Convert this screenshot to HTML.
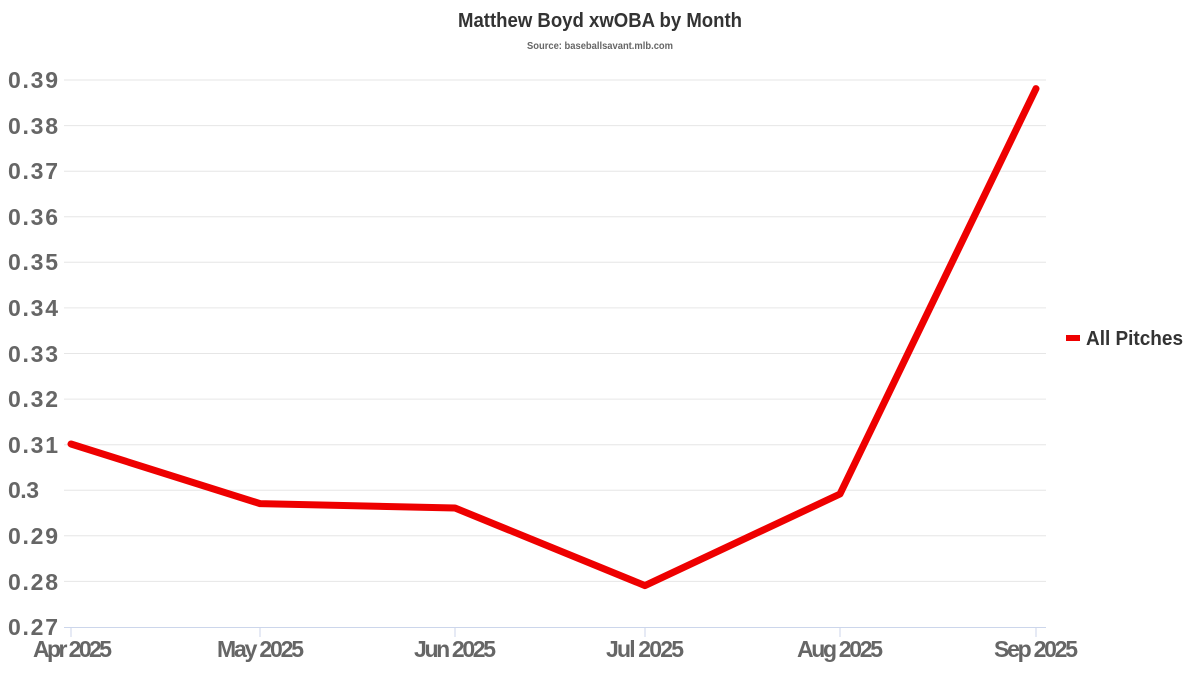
<!DOCTYPE html>
<html><head><meta charset="utf-8"><style>
body{margin:0;background:#fff;}
svg text{font-family:"Liberation Sans Narrow","Liberation Sans",sans-serif;font-weight:bold;}
</style></head><body>
<svg width="1200" height="675" viewBox="0 0 1200 675" xmlns="http://www.w3.org/2000/svg">
<text x="458" y="27" font-size="20" fill="#333" textLength="284" lengthAdjust="spacingAndGlyphs">Matthew Boyd xwOBA by Month</text>
<text x="527" y="49" font-size="10" fill="#666" textLength="146" lengthAdjust="spacingAndGlyphs">Source: baseballsavant.mlb.com</text>
<g stroke="#e6e6e6" stroke-width="1">
<line x1="64" x2="1046" y1="80" y2="80"/><line x1="64" x2="1046" y1="125.6" y2="125.6"/>
<line x1="64" x2="1046" y1="171.2" y2="171.2"/><line x1="64" x2="1046" y1="216.7" y2="216.7"/>
<line x1="64" x2="1046" y1="262.3" y2="262.3"/><line x1="64" x2="1046" y1="307.9" y2="307.9"/>
<line x1="64" x2="1046" y1="353.5" y2="353.5"/><line x1="64" x2="1046" y1="399.1" y2="399.1"/>
<line x1="64" x2="1046" y1="444.7" y2="444.7"/><line x1="64" x2="1046" y1="490.2" y2="490.2"/>
<line x1="64" x2="1046" y1="535.8" y2="535.8"/><line x1="64" x2="1046" y1="581.4" y2="581.4"/>
</g>
<g stroke="#ccd6eb" stroke-width="1">
<line x1="64" x2="1046" y1="627.5" y2="627.5"/>
<line x1="71" x2="71" y1="627" y2="637"/><line x1="260" x2="260" y1="627" y2="637"/>
<line x1="455" x2="455" y1="627" y2="637"/><line x1="645" x2="645" y1="627" y2="637"/>
<line x1="840" x2="840" y1="627" y2="637"/><line x1="1036" x2="1036" y1="627" y2="637"/>
</g>
<g font-size="23" fill="#666" lengthAdjust="spacingAndGlyphs">
<text x="8" y="88" textLength="50">0.39</text><text x="8" y="134" textLength="50">0.38</text><text x="8" y="179" textLength="50">0.37</text>
<text x="8" y="225" textLength="50">0.36</text><text x="8" y="270" textLength="50">0.35</text><text x="8" y="316" textLength="50">0.34</text>
<text x="8" y="362" textLength="50">0.33</text><text x="8" y="407" textLength="50">0.32</text><text x="8" y="453" textLength="50">0.31</text>
<text x="8" y="498" textLength="31">0.3</text><text x="8" y="544" textLength="50">0.29</text><text x="8" y="590" textLength="50">0.28</text>
<text x="8" y="635" textLength="50">0.27</text>
</g>
<g font-size="23" fill="#666" lengthAdjust="spacingAndGlyphs">
<text x="33" y="657" textLength="79">Apr 2025</text><text x="217" y="657" textLength="87">May 2025</text>
<text x="414" y="657" textLength="82">Jun 2025</text><text x="606" y="657" textLength="78">Jul 2025</text>
<text x="797" y="657" textLength="86">Aug 2025</text><text x="994" y="657" textLength="84">Sep 2025</text>
</g>
<polyline fill="none" stroke="#ee0000" stroke-width="7" stroke-linejoin="round" stroke-linecap="round"
points="71,444 260,503.6 455,508 645,585.6 840,494 1036,88.6"/>
<line x1="1066" x2="1080" y1="338" y2="338" stroke="#ee0000" stroke-width="6"/>
<text x="1086" y="345" font-size="20" fill="#333" textLength="97" lengthAdjust="spacingAndGlyphs">All Pitches</text>
</svg>
</body></html>
